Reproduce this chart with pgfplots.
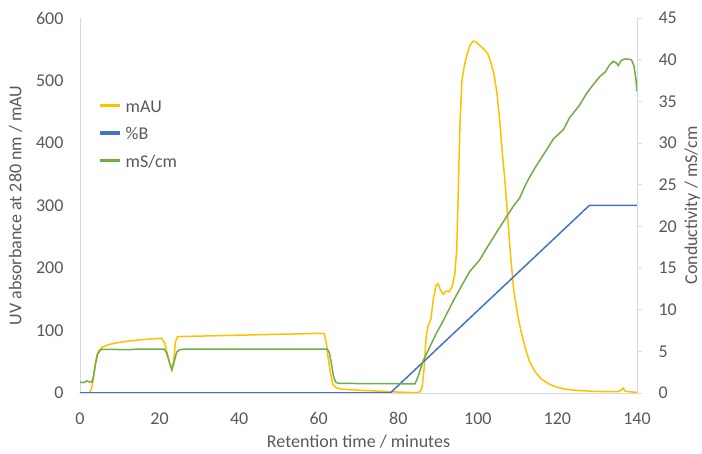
\documentclass[border=0pt]{standalone}
\usepackage{pgfplots}
\pgfplotsset{compat=1.18}
\usepackage{fontspec}
\setmainfont{Carlito}

\definecolor{mauyellow}{HTML}{FFC000}
\definecolor{pbblue}{HTML}{4472C4}
\definecolor{condgreen}{HTML}{70AD47}
\definecolor{txtgray}{HTML}{595959}
\definecolor{axgray}{HTML}{D9D9D9}

% UV absorbance trace (mAU)
\pgfplotstableread{
t mau
0 0
2.3 0
2.8 5
3.3 20
3.8 45
4.3 62
4.8 68
5.5 73
7 77
9 80
12 83
15 85
18 86.5
20.5 87.5
21.3 80
22 62
22.6 45
23.1 37
23.6 55
24 82
24.5 90
26 90.5
30 91
40 92.5
50 94
55 94.5
60 95.5
61.4 95
61.9 80
62.4 55
63 30
63.6 13
64.5 8
66 6
70 4.5
75 3
80 1.5
84.5 0.5
85.5 2
86 10
86.5 40
87 90
87.5 108
88.2 118
88.8 150
89.5 172
90 175
90.6 165
91.3 158
92 163
92.8 162
93.5 170
94.2 190
94.7 230
95.1 330
95.5 430
96 500
96.5 520
97.2 540
98 556
98.8 563
99.5 562
100.5 556
101.5 550
102.5 543
103.2 530
104 512
104.8 480
105.5 435
106.2 380
106.8 340
107.5 280
108.2 222
109 165
110 125
110.8 100
112 70
113 50
114.5 33
116 22
118 14
120 9
122 6
125 4
130 2.5
135 2
136 4
136.5 8
137 3
138 2
140 1
}\mautable

% gradient (%B)
\pgfplotstableread{
t pb
0 0
78 0
128 300
140 300
}\pbtable

% conductivity (mS/cm)
\pgfplotstableread{
t ms
0 1.3
1 1.25
1.7 1.45
2.3 1.35
3 1.3
3.4 2
3.9 3.5
4.4 4.6
5 5.1
5.6 5.25
12 5.2
14 5.25
21.2 5.25
21.8 4.8
22.4 3.8
23.1 2.8
23.7 3.8
24.3 4.9
25 5.2
26 5.25
62.2 5.25
62.7 4.8
63.2 3.5
63.7 2.0
64.3 1.3
65 1.15
84.2 1.1
85 2.0
86.3 3.9
87 4.6
88 5.6
89.6 7.2
91 8.4
92.5 9.8
94 11.2
96.3 13.2
98 14.6
100.5 16.0
102.5 17.6
105 19.5
107 21.0
108.9 22.4
110.5 23.4
112 25.0
113.1 26.0
115 27.5
117.3 29.2
119 30.5
121.5 31.6
123 33.0
124 33.6
125.5 34.5
127.4 36
129 37
130.7 38
132 38.5
133 39.3
134 39.8
134.8 39.6
135.3 39.3
136 39.9
137 40.1
138.6 40.0
139.2 39.3
139.7 37.8
140 36.2
}\mstable

\pgfplotsset{
  base/.style={
    scale only axis,
    width=557pt, height=375pt,
    at={(0pt,0pt)}, anchor=south west,
    xmin=0, xmax=140,
    font=\fontsize{18}{21}\selectfont,
    every tick label/.append style={text=txtgray},
    /pgf/number format/assume math mode=true,
    /pgf/number format/1000 sep={},
    label style={text=txtgray},
  },
}
% taller legend rows
\newcommand{\keystrut}{\rule[-7pt]{0pt}{22pt}}

\begin{document}
\begin{tikzpicture}
\useasboundingbox (-80pt,-61pt) rectangle (622pt,393pt);
\begin{axis}[
  base,
  ymin=0, ymax=600,
  axis x line*=bottom, axis y line*=left,
  axis line style={draw=axgray, line width=0.8pt},
  xtick={0,20,...,140},
  ytick={0,100,...,600},
  major tick length=0pt,
  xticklabel style={yshift=-16pt},
  yticklabel style={xshift=-13pt},
  xlabel={Retention time / minutes},
  ylabel={UV absorbance at 280 nm / mAU},
  xlabel style={yshift=-3pt},
  ylabel style={yshift=7pt},
  legend style={at={(0.036,0.795)}, anchor=north west, draw=none, fill=none,
    text=txtgray, row sep=7pt, inner sep=0pt,
    font=\fontsize{18}{21}\selectfont},
  legend cell align=left,
  legend image code/.code={%
    \fill[#1] (0pt,-1pt) rectangle (18pt,1pt);
    \path (22pt,0pt);},
]
\addplot[mauyellow, line width=1.5pt] table[x=t, y=mau] {\mautable};
\addlegendentry{\keystrut mAU}
\addplot[pbblue, line width=1.5pt] table[x=t, y=pb] {\pbtable};
\addlegendentry{\keystrut\%B}
\addlegendimage{condgreen, line width=1.5pt}
\addlegendentry{\keystrut mS/cm}
\end{axis}
\begin{axis}[
  base,
  ymin=0, ymax=45,
  axis x line=none, axis y line*=right,
  axis line style={draw=axgray, line width=0.8pt},
  ytick={0,5,...,45},
  ytick align=outside,
  major tick length=5pt,
  major tick style={draw=axgray, line width=0.8pt},
  yticklabel style={xshift=13pt},
  ylabel={Conductivity / mS/cm},
  ylabel style={yshift=-1pt},
]
\addplot[condgreen, line width=1.5pt] table[x=t, y=ms] {\mstable};
\end{axis}
\end{tikzpicture}
\end{document}
